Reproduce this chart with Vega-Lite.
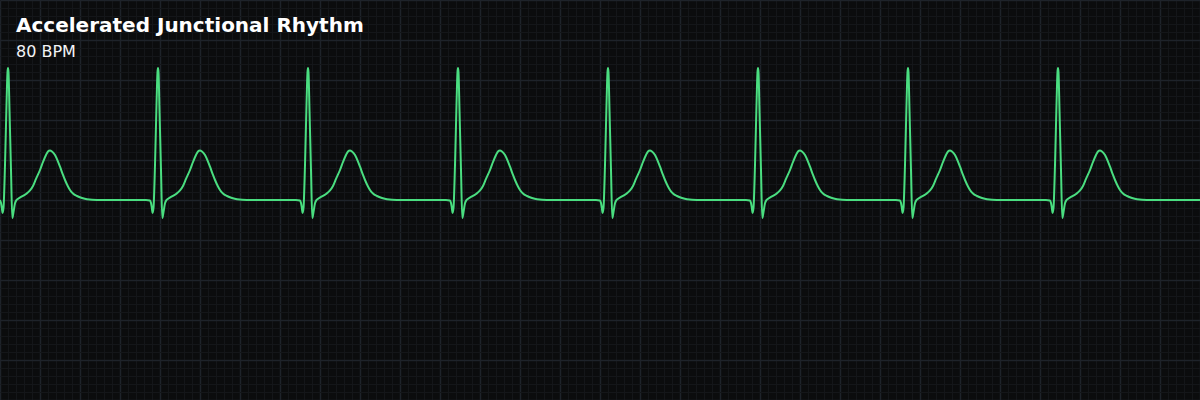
{
  "$schema": "https://vega.github.io/schema/vega-lite/v6.json",
  "width": 1200,
  "height": 400,
  "autosize": {"type": "fit", "contains": "padding"},
  "padding": 0,
  "background": "#0b0c0d",
  "title": {
    "text": "Accelerated Junctional Rhythm",
    "subtitle": "80 BPM",
    "anchor": "start",
    "orient": "top",
    "frame": "group",
    "offset": -60,
    "dx": 16,
    "font": "DejaVu Sans",
    "fontSize": 20,
    "fontWeight": "bold",
    "color": "#ffffff",
    "subtitleFont": "DejaVu Sans",
    "subtitleFontSize": 16,
    "subtitleFontWeight": "normal",
    "subtitleColor": "#f3f4f6",
    "subtitlePadding": 8
  },
  "data": {
    "values": [
      {"t":0,"mv":-0.006},{"t":0.005,"mv":-0.038},{"t":0.01,"mv":-0.113},{"t":0.0125,"mv":-0.163},{"t":0.0175,"mv":-0.1},{"t":0.025,"mv":0.438},{"t":0.0325,"mv":1.188},{"t":0.0375,"mv":1.6},{"t":0.04,"mv":1.65},{"t":0.0425,"mv":1.6},{"t":0.0475,"mv":1.125},{"t":0.055,"mv":0.375},{"t":0.0615,"mv":-0.225},{"t":0.0675,"mv":-0.15},{"t":0.075,"mv":-0.041},{"t":0.0825,"mv":0},{"t":0.0925,"mv":0.019},{"t":0.11,"mv":0.044},{"t":0.13,"mv":0.075},{"t":0.15,"mv":0.119},{"t":0.165,"mv":0.175},{"t":0.18,"mv":0.263},{"t":0.2,"mv":0.375},{"t":0.215,"mv":0.475},{"t":0.23,"mv":0.563},{"t":0.24,"mv":0.606},{"t":0.25,"mv":0.619},{"t":0.26,"mv":0.606},{"t":0.275,"mv":0.563},{"t":0.29,"mv":0.481},{"t":0.3,"mv":0.416},{"t":0.315,"mv":0.313},{"t":0.325,"mv":0.25},{"t":0.34,"mv":0.169},{"t":0.35,"mv":0.125},{"t":0.365,"mv":0.081},{"t":0.385,"mv":0.05},{"t":0.41,"mv":0.025},{"t":0.435,"mv":0.009},{"t":0.485,"mv":0},

      {"t":0.73,"mv":0},{"t":0.75,"mv":-0.006},{"t":0.755,"mv":-0.038},{"t":0.76,"mv":-0.113},{"t":0.7625,"mv":-0.163},{"t":0.7675,"mv":-0.1},{"t":0.775,"mv":0.438},{"t":0.7825,"mv":1.188},{"t":0.7875,"mv":1.6},{"t":0.79,"mv":1.65},{"t":0.7925,"mv":1.6},{"t":0.7975,"mv":1.125},{"t":0.805,"mv":0.375},{"t":0.8115,"mv":-0.225},{"t":0.8175,"mv":-0.15},{"t":0.825,"mv":-0.041},{"t":0.8325,"mv":0},{"t":0.8425,"mv":0.019},{"t":0.86,"mv":0.044},{"t":0.88,"mv":0.075},{"t":0.9,"mv":0.119},{"t":0.915,"mv":0.175},{"t":0.93,"mv":0.263},{"t":0.95,"mv":0.375},{"t":0.965,"mv":0.475},{"t":0.98,"mv":0.563},{"t":0.99,"mv":0.606},{"t":1.0,"mv":0.619},{"t":1.01,"mv":0.606},{"t":1.025,"mv":0.563},{"t":1.04,"mv":0.481},{"t":1.05,"mv":0.416},{"t":1.065,"mv":0.313},{"t":1.075,"mv":0.25},{"t":1.09,"mv":0.169},{"t":1.1,"mv":0.125},{"t":1.115,"mv":0.081},{"t":1.135,"mv":0.05},{"t":1.16,"mv":0.025},{"t":1.185,"mv":0.009},{"t":1.235,"mv":0},

      {"t":1.48,"mv":0},{"t":1.5,"mv":-0.006},{"t":1.505,"mv":-0.038},{"t":1.51,"mv":-0.113},{"t":1.5125,"mv":-0.163},{"t":1.5175,"mv":-0.1},{"t":1.525,"mv":0.438},{"t":1.5325,"mv":1.188},{"t":1.5375,"mv":1.6},{"t":1.54,"mv":1.65},{"t":1.5425,"mv":1.6},{"t":1.5475,"mv":1.125},{"t":1.555,"mv":0.375},{"t":1.5615,"mv":-0.225},{"t":1.5675,"mv":-0.15},{"t":1.575,"mv":-0.041},{"t":1.5825,"mv":0},{"t":1.5925,"mv":0.019},{"t":1.61,"mv":0.044},{"t":1.63,"mv":0.075},{"t":1.65,"mv":0.119},{"t":1.665,"mv":0.175},{"t":1.68,"mv":0.263},{"t":1.7,"mv":0.375},{"t":1.715,"mv":0.475},{"t":1.73,"mv":0.563},{"t":1.74,"mv":0.606},{"t":1.75,"mv":0.619},{"t":1.76,"mv":0.606},{"t":1.775,"mv":0.563},{"t":1.79,"mv":0.481},{"t":1.8,"mv":0.416},{"t":1.815,"mv":0.313},{"t":1.825,"mv":0.25},{"t":1.84,"mv":0.169},{"t":1.85,"mv":0.125},{"t":1.865,"mv":0.081},{"t":1.885,"mv":0.05},{"t":1.91,"mv":0.025},{"t":1.935,"mv":0.009},{"t":1.985,"mv":0},

      {"t":2.23,"mv":0},{"t":2.25,"mv":-0.006},{"t":2.255,"mv":-0.038},{"t":2.26,"mv":-0.113},{"t":2.2625,"mv":-0.163},{"t":2.2675,"mv":-0.1},{"t":2.275,"mv":0.438},{"t":2.2825,"mv":1.188},{"t":2.2875,"mv":1.6},{"t":2.29,"mv":1.65},{"t":2.2925,"mv":1.6},{"t":2.2975,"mv":1.125},{"t":2.305,"mv":0.375},{"t":2.3115,"mv":-0.225},{"t":2.3175,"mv":-0.15},{"t":2.325,"mv":-0.041},{"t":2.3325,"mv":0},{"t":2.3425,"mv":0.019},{"t":2.36,"mv":0.044},{"t":2.38,"mv":0.075},{"t":2.4,"mv":0.119},{"t":2.415,"mv":0.175},{"t":2.43,"mv":0.263},{"t":2.45,"mv":0.375},{"t":2.465,"mv":0.475},{"t":2.48,"mv":0.563},{"t":2.49,"mv":0.606},{"t":2.5,"mv":0.619},{"t":2.51,"mv":0.606},{"t":2.525,"mv":0.563},{"t":2.54,"mv":0.481},{"t":2.55,"mv":0.416},{"t":2.565,"mv":0.313},{"t":2.575,"mv":0.25},{"t":2.59,"mv":0.169},{"t":2.6,"mv":0.125},{"t":2.615,"mv":0.081},{"t":2.635,"mv":0.05},{"t":2.66,"mv":0.025},{"t":2.685,"mv":0.009},{"t":2.735,"mv":0},

      {"t":2.98,"mv":0},{"t":3.0,"mv":-0.006},{"t":3.005,"mv":-0.038},{"t":3.01,"mv":-0.113},{"t":3.0125,"mv":-0.163},{"t":3.0175,"mv":-0.1},{"t":3.025,"mv":0.438},{"t":3.0325,"mv":1.188},{"t":3.0375,"mv":1.6},{"t":3.04,"mv":1.65},{"t":3.0425,"mv":1.6},{"t":3.0475,"mv":1.125},{"t":3.055,"mv":0.375},{"t":3.0615,"mv":-0.225},{"t":3.0675,"mv":-0.15},{"t":3.075,"mv":-0.041},{"t":3.0825,"mv":0},{"t":3.0925,"mv":0.019},{"t":3.11,"mv":0.044},{"t":3.13,"mv":0.075},{"t":3.15,"mv":0.119},{"t":3.165,"mv":0.175},{"t":3.18,"mv":0.263},{"t":3.2,"mv":0.375},{"t":3.215,"mv":0.475},{"t":3.23,"mv":0.563},{"t":3.24,"mv":0.606},{"t":3.25,"mv":0.619},{"t":3.26,"mv":0.606},{"t":3.275,"mv":0.563},{"t":3.29,"mv":0.481},{"t":3.3,"mv":0.416},{"t":3.315,"mv":0.313},{"t":3.325,"mv":0.25},{"t":3.34,"mv":0.169},{"t":3.35,"mv":0.125},{"t":3.365,"mv":0.081},{"t":3.385,"mv":0.05},{"t":3.41,"mv":0.025},{"t":3.435,"mv":0.009},{"t":3.485,"mv":0},

      {"t":3.73,"mv":0},{"t":3.75,"mv":-0.006},{"t":3.755,"mv":-0.038},{"t":3.76,"mv":-0.113},{"t":3.7625,"mv":-0.163},{"t":3.7675,"mv":-0.1},{"t":3.775,"mv":0.438},{"t":3.7825,"mv":1.188},{"t":3.7875,"mv":1.6},{"t":3.79,"mv":1.65},{"t":3.7925,"mv":1.6},{"t":3.7975,"mv":1.125},{"t":3.805,"mv":0.375},{"t":3.8115,"mv":-0.225},{"t":3.8175,"mv":-0.15},{"t":3.825,"mv":-0.041},{"t":3.8325,"mv":0},{"t":3.8425,"mv":0.019},{"t":3.86,"mv":0.044},{"t":3.88,"mv":0.075},{"t":3.9,"mv":0.119},{"t":3.915,"mv":0.175},{"t":3.93,"mv":0.263},{"t":3.95,"mv":0.375},{"t":3.965,"mv":0.475},{"t":3.98,"mv":0.563},{"t":3.99,"mv":0.606},{"t":4.0,"mv":0.619},{"t":4.01,"mv":0.606},{"t":4.025,"mv":0.563},{"t":4.04,"mv":0.481},{"t":4.05,"mv":0.416},{"t":4.065,"mv":0.313},{"t":4.075,"mv":0.25},{"t":4.09,"mv":0.169},{"t":4.1,"mv":0.125},{"t":4.115,"mv":0.081},{"t":4.135,"mv":0.05},{"t":4.16,"mv":0.025},{"t":4.185,"mv":0.009},{"t":4.235,"mv":0},

      {"t":4.48,"mv":0},{"t":4.5,"mv":-0.006},{"t":4.505,"mv":-0.038},{"t":4.51,"mv":-0.113},{"t":4.5125,"mv":-0.163},{"t":4.5175,"mv":-0.1},{"t":4.525,"mv":0.438},{"t":4.5325,"mv":1.188},{"t":4.5375,"mv":1.6},{"t":4.54,"mv":1.65},{"t":4.5425,"mv":1.6},{"t":4.5475,"mv":1.125},{"t":4.555,"mv":0.375},{"t":4.5615,"mv":-0.225},{"t":4.5675,"mv":-0.15},{"t":4.575,"mv":-0.041},{"t":4.5825,"mv":0},{"t":4.5925,"mv":0.019},{"t":4.61,"mv":0.044},{"t":4.63,"mv":0.075},{"t":4.65,"mv":0.119},{"t":4.665,"mv":0.175},{"t":4.68,"mv":0.263},{"t":4.7,"mv":0.375},{"t":4.715,"mv":0.475},{"t":4.73,"mv":0.563},{"t":4.74,"mv":0.606},{"t":4.75,"mv":0.619},{"t":4.76,"mv":0.606},{"t":4.775,"mv":0.563},{"t":4.79,"mv":0.481},{"t":4.8,"mv":0.416},{"t":4.815,"mv":0.313},{"t":4.825,"mv":0.25},{"t":4.84,"mv":0.169},{"t":4.85,"mv":0.125},{"t":4.865,"mv":0.081},{"t":4.885,"mv":0.05},{"t":4.91,"mv":0.025},{"t":4.935,"mv":0.009},{"t":4.985,"mv":0},

      {"t":5.23,"mv":0},{"t":5.25,"mv":-0.006},{"t":5.255,"mv":-0.038},{"t":5.26,"mv":-0.113},{"t":5.2625,"mv":-0.163},{"t":5.2675,"mv":-0.1},{"t":5.275,"mv":0.438},{"t":5.2825,"mv":1.188},{"t":5.2875,"mv":1.6},{"t":5.29,"mv":1.65},{"t":5.2925,"mv":1.6},{"t":5.2975,"mv":1.125},{"t":5.305,"mv":0.375},{"t":5.3115,"mv":-0.225},{"t":5.3175,"mv":-0.15},{"t":5.325,"mv":-0.041},{"t":5.3325,"mv":0},{"t":5.3425,"mv":0.019},{"t":5.36,"mv":0.044},{"t":5.38,"mv":0.075},{"t":5.4,"mv":0.119},{"t":5.415,"mv":0.175},{"t":5.43,"mv":0.263},{"t":5.45,"mv":0.375},{"t":5.465,"mv":0.475},{"t":5.48,"mv":0.563},{"t":5.49,"mv":0.606},{"t":5.5,"mv":0.619},{"t":5.51,"mv":0.606},{"t":5.525,"mv":0.563},{"t":5.54,"mv":0.481},{"t":5.55,"mv":0.416},{"t":5.565,"mv":0.313},{"t":5.575,"mv":0.25},{"t":5.59,"mv":0.169},{"t":5.6,"mv":0.125},{"t":5.615,"mv":0.081},{"t":5.635,"mv":0.05},{"t":5.66,"mv":0.025},{"t":5.685,"mv":0.009},{"t":5.735,"mv":0},
      {"t":6.0,"mv":0}
    ]
  },
  "mark": {"type": "line", "color": "#4ade80", "strokeWidth": 2, "interpolate": "monotone", "clip": true, "strokeJoin": "round", "strokeCap": "round"},
  "encoding": {
    "x": {
      "field": "t",
      "type": "quantitative",
      "scale": {"domain": [0, 6], "nice": false, "zero": false},
      "axis": {
        "title": null, "labels": false, "ticks": false, "domain": false,
        "grid": true,
        "values": [0,0.04,0.08,0.12,0.16,0.2,0.24,0.28,0.32,0.36,0.4,0.44,0.48,0.52,0.56,0.6,0.64,0.68,0.72,0.76,0.8,0.84,0.88,0.92,0.96,1,1.04,1.08,1.12,1.16,1.2,1.24,1.28,1.32,1.36,1.4,1.44,1.48,1.52,1.56,1.6,1.64,1.68,1.72,1.76,1.8,1.84,1.88,1.92,1.96,2,2.04,2.08,2.12,2.16,2.2,2.24,2.28,2.32,2.36,2.4,2.44,2.48,2.52,2.56,2.6,2.64,2.68,2.72,2.76,2.8,2.84,2.88,2.92,2.96,3,3.04,3.08,3.12,3.16,3.2,3.24,3.28,3.32,3.36,3.4,3.44,3.48,3.52,3.56,3.6,3.64,3.68,3.72,3.76,3.8,3.84,3.88,3.92,3.96,4,4.04,4.08,4.12,4.16,4.2,4.24,4.28,4.32,4.36,4.4,4.44,4.48,4.52,4.56,4.6,4.64,4.68,4.72,4.76,4.8,4.84,4.88,4.92,4.96,5,5.04,5.08,5.12,5.16,5.2,5.24,5.28,5.32,5.36,5.4,5.44,5.48,5.52,5.56,5.6,5.64,5.68,5.72,5.76,5.8,5.84,5.88,5.92,5.96,6],
        "gridColor": {"condition": {"test": "abs(datum.value*5 - round(datum.value*5)) < 0.01", "value": "#1e232a"}, "value": "#141619"},
        "gridWidth": {"condition": {"test": "abs(datum.value*5 - round(datum.value*5)) < 0.01", "value": 1.5}, "value": 1},
        "gridOpacity": 1
      }
    },
    "y": {
      "field": "mv",
      "type": "quantitative",
      "scale": {"domain": [-2.5, 2.5], "nice": false, "zero": false},
      "axis": {
        "title": null, "labels": false, "ticks": false, "domain": false,
        "grid": true,
        "values": [-2.5,-2.4,-2.3,-2.2,-2.1,-2,-1.9,-1.8,-1.7,-1.6,-1.5,-1.4,-1.3,-1.2,-1.1,-1,-0.9,-0.8,-0.7,-0.6,-0.5,-0.4,-0.3,-0.2,-0.1,0,0.1,0.2,0.3,0.4,0.5,0.6,0.7,0.8,0.9,1,1.1,1.2,1.3,1.4,1.5,1.6,1.7,1.8,1.9,2,2.1,2.2,2.3,2.4,2.5],
        "gridColor": {"condition": {"test": "abs(datum.value*2 - round(datum.value*2)) < 0.01", "value": "#1e232a"}, "value": "#141619"},
        "gridWidth": {"condition": {"test": "abs(datum.value*2 - round(datum.value*2)) < 0.01", "value": 1.5}, "value": 1},
        "gridOpacity": 1
      }
    }
  },
  "config": {
    "view": {"stroke": null},
    "axis": {"gridOpacity": 1}
  }
}
